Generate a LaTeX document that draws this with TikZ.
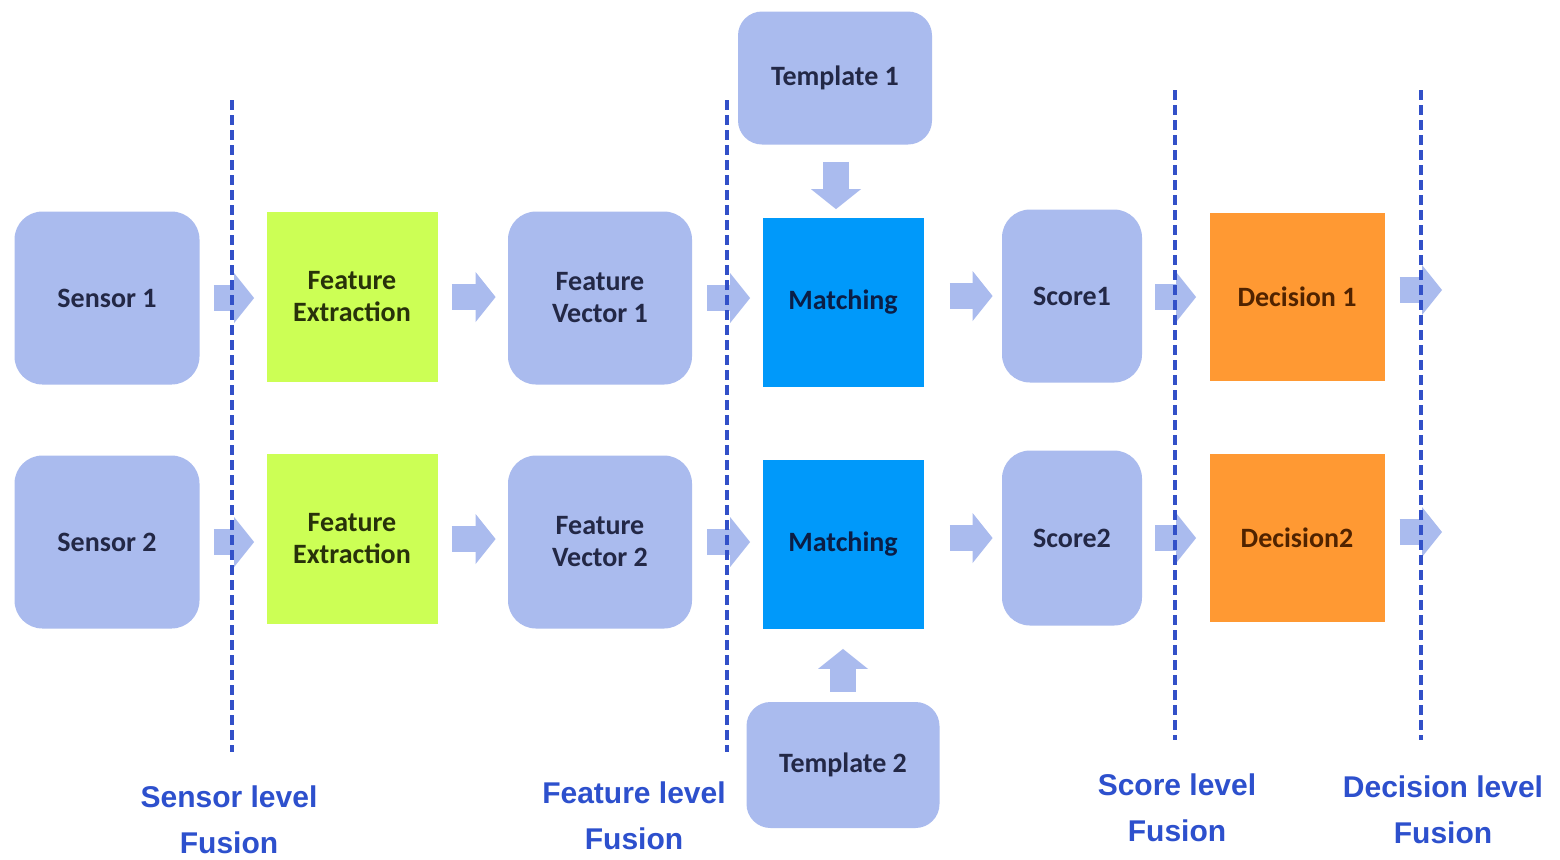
\documentclass[tikz,border=0pt]{standalone}
\usepackage{fontspec}
\setmainfont{Carlito}
\newfontfamily\lblfont{Liberation Sans}
\usepackage{tikz}
\usetikzlibrary{arrows.meta}
\definecolor{lav}{RGB}{170,187,238}
\definecolor{lime}{RGB}{204,255,85}
\definecolor{mblue}{RGB}{0,153,250}
\definecolor{orng}{RGB}{255,153,51}
\definecolor{dline}{RGB}{50,80,200}
\definecolor{lblue}{RGB}{45,80,205}
\definecolor{navy}{RGB}{35,40,70}
\begin{document}
\begin{tikzpicture}[x=0.5pt,y=-0.5pt,
box/.style={inner sep=0pt,align=center,text=navy,font=\bfseries\fontsize{14}{16}\selectfont},
rbox/.style={box,fill=lav,rounded corners=14pt},
arr/.style={draw=lav,line width=13pt,-{Triangle[line width=0pt,length=10pt,width=25pt]},shorten <=7pt,shorten >=6pt},
fuse/.style={draw=dline,line width=2pt,dash pattern=on 5pt off 2.5pt},
lbl/.style={text=lblue,align=center,font=\lblfont\bfseries\fontsize{15}{23}\selectfont}]
\useasboundingbox[fill=white](0,0)rectangle(1560,859);
\node[rbox,minimum width=92.5pt,minimum height=86.5pt](S1)at(107,298){Sensor 1};
\node[rbox,minimum width=92.5pt,minimum height=86.5pt](S2)at(107,542){Sensor 2};
\node[box,fill=lime,text={rgb,255:red,40;green,50;blue,10},minimum width=85.5pt,minimum height=85pt](F1)at(352,297){Feature\\Extraction};
\node[box,fill=lime,text={rgb,255:red,40;green,50;blue,10},minimum width=85.5pt,minimum height=85pt](F2)at(352,539){Feature\\Extraction};
\node[rbox,minimum width=92pt,minimum height=86.5pt](V1)at(600,298){Feature\\Vector 1};
\node[rbox,minimum width=92pt,minimum height=86.5pt](V2)at(600,542){Feature\\Vector 2};
\node[rbox,rounded corners=12pt,minimum width=97pt,minimum height=66.5pt](T1)at(835,78){Template 1};
\node[rbox,rounded corners=12pt,minimum width=96.5pt,minimum height=63pt](T2)at(843,765){Template 2};
\node[box,fill=mblue,text={rgb,255:red,10;green,30;blue,70},minimum width=80.5pt,minimum height=84.5pt](M1)at(843,302){Matching};
\node[box,fill=mblue,text={rgb,255:red,10;green,30;blue,70},minimum width=80.5pt,minimum height=84.5pt](M2)at(843,544){Matching};
\node[rbox,minimum width=70pt,minimum height=86.5pt](C1)at(1072,296){Score1};
\node[rbox,minimum width=70pt,minimum height=87.5pt](C2)at(1072,538){Score2};
\node[box,fill=orng,text={rgb,255:red,80;green,35;blue,0},minimum width=87.5pt,minimum height=84pt](D1)at(1297,297){Decision 1};
\node[box,fill=orng,text={rgb,255:red,80;green,35;blue,0},minimum width=87.5pt,minimum height=84pt](D2)at(1297,538){Decision2};
\coordinate(O1)at(1442,290);\coordinate(O2)at(1442,532);
\draw[arr](S1.east)--(S1.east-|F1.west);\draw[arr](S2.east)--(S2.east-|F2.west);
\draw[arr](F1.east)--(F1.east-|V1.west);\draw[arr](F2.east)--(F2.east-|V2.west);
\draw[arr,shorten <=7.5pt](V1.east)--(V1.east-|M1.west);
\draw[arr,shorten <=7.5pt](V2.east)--(V2.east-|M2.west);
\draw[arr,shorten <=13pt,shorten >=4.5pt](M1.east|-C1.west)--(C1.west);
\draw[arr,shorten <=13pt,shorten >=4.5pt](M2.east|-C2.west)--(C2.west);
\draw[arr,shorten <=6.5pt,shorten >=6.5pt](C1.east|-D1.west)--(D1.west);
\draw[arr,shorten <=6.5pt,shorten >=6.5pt](C2.east|-D2.west)--(D2.west);
\draw[arr,shorten <=7.5pt,shorten >=0pt](D1.east|-O1)--(O1);
\draw[arr,shorten <=7.5pt,shorten >=0pt](D2.east|-O2)--(O2);
\draw[arr,shorten <=8.5pt,shorten >=4pt](T1.south-|836,0)--(M1.north-|836,0);
\draw[arr,shorten <=5pt,shorten >=10pt](T2.north)--(M2.south);
\draw[fuse](232,100)--(232,752);
\draw[fuse](727,100)--(727,752);
\draw[fuse](1175,90)--(1175,740);
\draw[fuse](1421,90)--(1421,740);
\node[lbl](L1)at(229,820){Sensor level\\Fusion};
\node[lbl](L2)at(634,816){Feature level\\Fusion};
\node[lbl](L3)at(1177,808){Score level\\Fusion};
\node[lbl](L4)at(1443,810){Decision level\\Fusion};
\end{tikzpicture}
\end{document}
